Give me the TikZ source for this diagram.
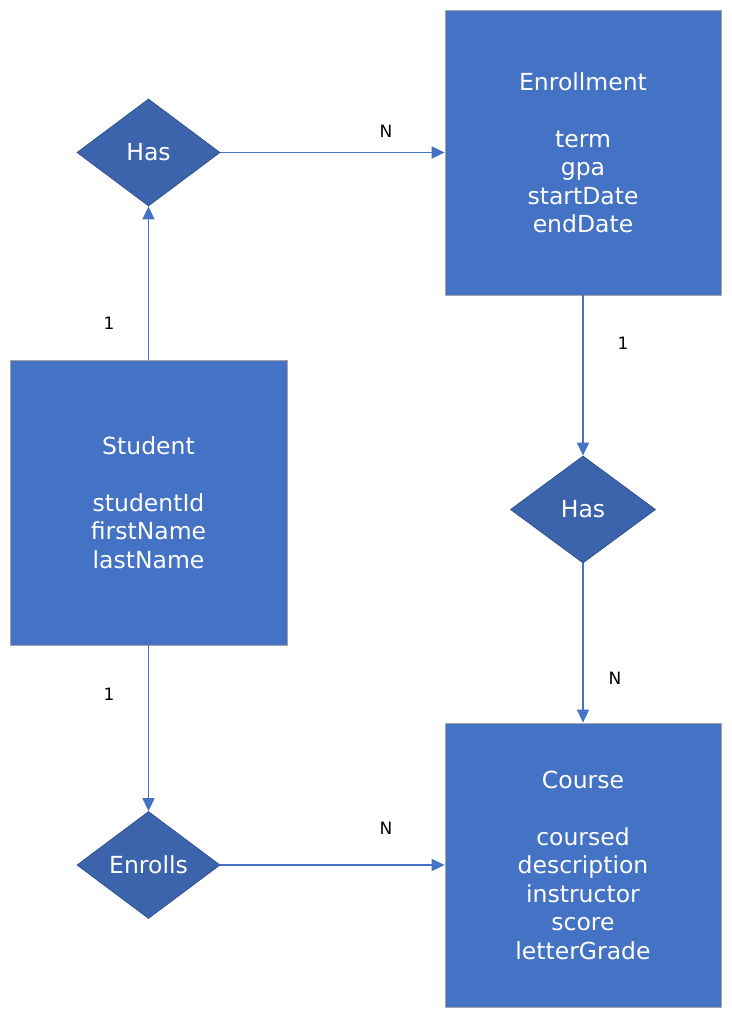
\documentclass[tikz,border=0pt]{standalone}
\usepackage{fontspec}
\setmainfont{DejaVu Sans}
\usetikzlibrary{shapes.geometric,arrows.meta}
\definecolor{boxfill}{HTML}{4472C4}
\definecolor{boxline}{HTML}{A5A5A5}
\definecolor{diafill}{HTML}{3C64AD}
\definecolor{dialine}{HTML}{2F528F}
\definecolor{conn}{HTML}{4472C4}
\tikzset{
  entity/.style={rectangle, fill=boxfill, draw=boxline, line width=0.8pt, text=white,
    align=center, inner sep=0pt, font=\fontsize{23.5}{28.5}\selectfont},
  relation/.style={diamond, fill=diafill, draw=dialine, line width=0.8pt, text=white,
    inner sep=0pt, aspect=1.34, font=\fontsize{23.5}{28.5}\selectfont},
  card/.style={text=black, font=\fontsize{17}{19}\selectfont, inner sep=0pt},
  link/.style={draw=conn, line width=1.6pt, -{Triangle[length=13pt,width=12pt]}}
}
\begin{document}
\begin{tikzpicture}[x=1pt,y=-1pt]
\useasboundingbox (0,0) rectangle (731,1019);
\node[entity, minimum width=276pt, minimum height=285pt] (enr) at (583,152.5)
  {Enrollment\\[28.5pt]term\\gpa\\startDate\\endDate};
\node[entity, minimum width=277pt, minimum height=285pt] (stu) at (148.5,502.5)
  {Student\\[28.5pt]studentId\\firstName\\lastName};
\node[entity, minimum width=276pt, minimum height=284pt] (crs) at (583,865)
  {Course\\[28.5pt]coursed\\description\\instructor\\score\\letterGrade};
\node[relation, minimum width=143pt, minimum height=107pt] (has1) at (148.5,152.5) {Has};
\node[relation, minimum width=145pt, minimum height=107pt] (has2) at (583,509.5) {Has};
\node[relation, minimum width=143pt, minimum height=107pt] (enrl) at (148.5,865) {Enrolls};
\draw[link] (has1.east) -- (enr.west);
\draw[link] (stu.north) -- (has1.south);
\draw[link] (enr.south) -- (has2.north);
\draw[link] (has2.south) -- (crs.north);
\draw[link] (stu.south) -- (enrl.north);
\draw[link] (enrl.east) -- (crs.west);
\node[card] (c1) at (386,131) {N};
\node[card] (c2) at (109,323) {1};
\node[card] (c3) at (623,343) {1};
\node[card] (c4) at (615,678) {N};
\node[card] (c5) at (109,694) {1};
\node[card] (c6) at (386,828) {N};
\end{tikzpicture}
\end{document}
